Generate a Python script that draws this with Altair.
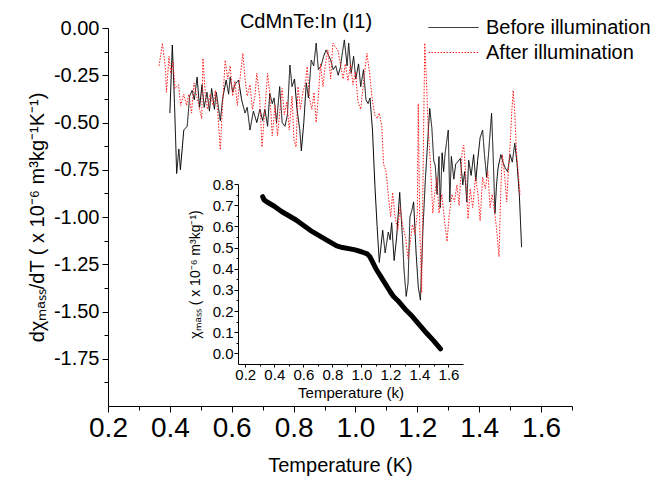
import altair as alt
import pandas as pd

# ---------------- data ----------------
T_before = [0.400, 0.408, 0.415, 0.422, 0.429, 0.434, 0.445, 0.456, 0.464, 0.472, 0.479, 0.488, 0.496, 0.504,
            0.511, 0.520, 0.528, 0.535, 0.544, 0.550, 0.563, 0.571, 0.582, 0.590, 0.595, 0.603, 0.610, 0.622,
            0.632, 0.643, 0.650, 0.659, 0.670, 0.681, 0.691, 0.700, 0.707, 0.716, 0.723, 0.731, 0.737, 0.745,
            0.755, 0.763, 0.772, 0.780, 0.788, 0.795, 0.803, 0.811, 0.820, 0.825, 0.833, 0.841, 0.848, 0.857,
            0.865, 0.873, 0.880, 0.889, 0.897, 0.905, 0.913, 0.920, 0.928, 0.936, 0.944, 0.951, 0.956, 0.964,
            0.973, 0.978, 0.986, 0.994, 1.001, 1.010, 1.017, 1.026, 1.034, 1.041, 1.047, 1.055, 1.063, 1.070,
            1.077, 1.088, 1.096, 1.106, 1.112, 1.117, 1.125, 1.133, 1.143, 1.152, 1.157, 1.164, 1.170, 1.176,
            1.183, 1.188, 1.196, 1.203, 1.210, 1.218, 1.226, 1.235, 1.240, 1.247, 1.253, 1.258, 1.264, 1.270,
            1.274, 1.280, 1.285, 1.290, 1.300, 1.305, 1.310, 1.318, 1.324, 1.330, 1.339, 1.347, 1.353, 1.360,
            1.366, 1.374, 1.382, 1.389, 1.395, 1.403, 1.411, 1.417, 1.424, 1.431, 1.440, 1.445, 1.451, 1.456,
            1.461, 1.470, 1.477, 1.484, 1.492, 1.500, 1.507, 1.515, 1.522, 1.530, 1.537]
dchi_before = [-0.45, -0.09, -0.40, -0.77, -0.64, -0.75, -0.54, -0.52, -0.36, -0.33, -0.38, -0.26, -0.42, -0.30,
               -0.42, -0.34, -0.44, -0.32, -0.43, -0.34, -0.49, -0.37, -0.275, -0.35, -0.26, -0.34, -0.30, -0.275,
               -0.38, -0.45, -0.42, -0.54, -0.44, -0.50, -0.43, -0.49, -0.43, -0.52, -0.345, -0.40, -0.37, -0.50,
               -0.31, -0.50, -0.52, -0.46, -0.196, -0.31, -0.27, -0.43, -0.54, -0.65, -0.50, -0.29, -0.37, -0.17,
               -0.20, -0.08, -0.22, -0.20, -0.15, -0.116, -0.145, -0.17, -0.22, -0.20, -0.25, -0.21, -0.15, -0.063,
               -0.20, -0.08, -0.24, -0.15, -0.27, -0.19, -0.31, -0.22, -0.38, -0.40, -0.37, -0.54, -0.84, -1.05,
               -1.24, -1.07, -1.19, -1.08, -1.12, -1.03, -1.23, -1.11, -0.87, -1.11, -1.28, -1.42, -1.35, -1.00,
               -0.96, -0.92, -1.19, -1.37, -1.44, -1.07, -0.80, -0.56, -0.425, -0.53, -0.70, -0.73, -0.88, -0.68,
               -0.95, -0.66, -0.76, -0.66, -0.54, -0.92, -0.68, -0.80, -0.72, -0.71, -0.69, -0.83, -0.76, -0.92,
               -0.70, -0.78, -0.67, -0.81, -0.70, -0.58, -0.54, -0.67, -0.79, -0.65, -0.45, -0.67, -0.98, -0.83,
               -0.74, -0.67, -0.71, -0.74, -0.76, -0.67, -0.71, -0.61, -0.71, -0.89, -1.16]

T_after = [0.365, 0.376, 0.386, 0.389, 0.397, 0.403, 0.410, 0.417, 0.428, 0.435, 0.445, 0.454, 0.461, 0.470,
           0.478, 0.487, 0.496, 0.503, 0.507, 0.515, 0.522, 0.530, 0.540, 0.547, 0.555, 0.563, 0.572, 0.579,
           0.587, 0.595, 0.603, 0.610, 0.618, 0.626, 0.636, 0.643, 0.650, 0.659, 0.667, 0.675, 0.681, 0.690,
           0.698, 0.706, 0.716, 0.723, 0.731, 0.740, 0.748, 0.755, 0.763, 0.770, 0.778, 0.786, 0.795, 0.801,
           0.808, 0.814, 0.822, 0.830, 0.838, 0.844, 0.851, 0.859, 0.866, 0.873, 0.880, 0.887, 0.895, 0.902,
           0.911, 0.920, 0.927, 0.935, 0.943, 0.951, 0.960, 0.967, 0.976, 0.984, 0.992, 1.000, 1.008, 1.017,
           1.024, 1.030, 1.037, 1.045, 1.053, 1.062, 1.070, 1.077, 1.085, 1.091, 1.099, 1.107, 1.114, 1.120,
           1.128, 1.137, 1.144, 1.153, 1.162, 1.170, 1.176, 1.184, 1.192, 1.200, 1.203, 1.208, 1.214, 1.220,
           1.224, 1.230, 1.235, 1.242, 1.250, 1.256, 1.263, 1.270, 1.279, 1.288, 1.296, 1.303, 1.312, 1.320,
           1.328, 1.335, 1.345, 1.350, 1.355, 1.364, 1.371, 1.379, 1.388, 1.396, 1.403, 1.411, 1.420, 1.428,
           1.435, 1.442, 1.451, 1.456, 1.464, 1.470, 1.475, 1.481, 1.489, 1.494, 1.500, 1.505, 1.510, 1.515,
           1.521, 1.526, 1.532]
dchi_after = [-0.20, -0.08, -0.22, -0.34, -0.15, -0.24, -0.18, -0.32, -0.30, -0.41, -0.35, -0.41, -0.35, -0.45,
              -0.29, -0.36, -0.43, -0.48, -0.16, -0.36, -0.43, -0.35, -0.41, -0.33, -0.45, -0.645, -0.36, -0.17,
              -0.27, -0.20, -0.36, -0.28, -0.41, -0.28, -0.134, -0.27, -0.36, -0.30, -0.43, -0.36, -0.24, -0.36,
              -0.63, -0.45, -0.24, -0.35, -0.57, -0.41, -0.57, -0.45, -0.32, -0.46, -0.39, -0.54, -0.36, -0.59,
              -0.63, -0.31, -0.43, -0.34, -0.29, -0.205, -0.37, -0.43, -0.34, -0.50, -0.36, -0.19, -0.31, -0.20,
              -0.116, -0.27, -0.08, -0.10, -0.116, -0.19, -0.27, -0.19, -0.28, -0.19, -0.30, -0.23, -0.39, -0.43,
              -0.32, -0.23, -0.134, -0.23, -0.36, -0.46, -0.48, -0.45, -0.52, -0.72, -0.76, -0.90, -1.00, -0.87,
              -1.00, -1.07, -0.95, -1.05, -1.11, -1.22, -1.15, -1.04, -1.09, -0.98, -0.40, -1.07, -1.40, -0.58,
              -0.08, -0.30, -0.53, -0.71, -0.98, -0.88, -0.79, -0.98, -0.88, -1.02, -1.13, -0.99, -0.88, -0.92,
              -0.83, -0.94, -0.65, -0.62, -0.74, -1.01, -0.85, -0.95, -0.79, -0.88, -1.02, -0.79, -0.85, -0.76,
              -0.95, -0.88, -0.99, -1.06, -1.21, -0.85, -0.67, -0.76, -0.92, -0.76, -0.62, -0.45, -0.33, -0.45,
              -0.67, -0.76, -0.88]

series_names = ["Before illumination", "After illumination"]

T_inset = [0.32, 0.33, 0.35, 0.40, 0.45, 0.50, 0.55, 0.60, 0.65, 0.70, 0.75, 0.80, 0.83, 0.87, 0.95, 1.00,
           1.04, 1.06, 1.10, 1.15, 1.20, 1.22, 1.25, 1.30, 1.35, 1.40, 1.45, 1.50, 1.545]
chi_inset = [0.74, 0.725, 0.715, 0.695, 0.67, 0.65, 0.63, 0.605, 0.58, 0.56, 0.54, 0.52, 0.508, 0.50, 0.49,
             0.48, 0.47, 0.455, 0.40, 0.345, 0.29, 0.27, 0.25, 0.21, 0.175, 0.135, 0.095, 0.058, 0.022]

main_x_ticks = [round(0.2 + 0.1 * i, 2) for i in range(16)]
main_y_ticks = [round(-2.0 + 0.125 * i, 3) for i in range(1, 17)]
inset_x_ticks = [round(0.2 + 0.1 * i, 2) for i in range(15)]
inset_y_ticks = [round(0.05 * i, 2) for i in range(17)]

FONT = "Liberation Sans"

df_main = pd.concat([
    pd.DataFrame({"T": T_before, "v": dchi_before, "series": series_names[0]}),
    pd.DataFrame({"T": T_after, "v": dchi_after, "series": series_names[1]}),
], ignore_index=True)
df_inset = pd.DataFrame({"Ti": T_inset, "chi": chi_inset})

legend = alt.Legend(title=None, orient="none", legendX=320, legendY=-13, symbolType="stroke",
                    symbolSize=2500, symbolStrokeWidth=1, labelFontSize=20, labelFont=FONT,
                    labelColor="black", labelOffset=7, labelLimit=400, clipHeight=25, rowPadding=0, padding=0)

common = dict(labelFlush=False, labelOverlap=False, grid=False, domainColor="black", tickColor="black",
              labelColor="black", titleColor="black", labelFont=FONT, titleFont=FONT,
              titleFontWeight=400, labelFontWeight=400)

main = alt.Chart(df_main).mark_line(strokeWidth=1).encode(
    x=alt.X("T:Q", scale=alt.Scale(domain=[0.2, 1.7], nice=False, zero=False),
            axis=alt.Axis(values=main_x_ticks, orient="bottom",
                          labelExpr="round(datum.value*10) % 2 == 0 ? format(datum.value, '.1f') : ''",
                          tickSize={"condition": {"test": "round(datum.value*10) % 2 == 0", "value": 6}, "value": 4},
                          labelFontSize=28, labelPadding=2,
                          title="Temperature (K)", titleFontSize=20, titlePadding=13, **common)),
    y=alt.Y("v:Q", scale=alt.Scale(domain=[-2.0, 0.0], nice=False, zero=False),
            axis=alt.Axis(values=main_y_ticks, orient="left",
                          labelExpr="abs(round(datum.value*8)) % 2 == 0 ? ((datum.value < 0 ? '-' : '') + format(abs(datum.value), '.2f')) : ''",
                          tickSize={"condition": {"test": "abs(round(datum.value*8)) % 2 == 0", "value": 6}, "value": 4},
                          labelFontSize=20, labelPadding=3,
                          title="dχₘₐₛₛ/dT ( x 10⁻⁶ m³kg⁻¹K⁻¹)", titleFontSize=20, titlePadding=6, **common)),
    color=alt.Color("series:N", scale=alt.Scale(domain=series_names, range=["#000000", "#ff1a1a"]), legend=legend),
    strokeDash=alt.StrokeDash("series:N", scale=alt.Scale(domain=series_names, range=[[1, 0], [1.5, 1.5]]), legend=legend),
)

inset = alt.Chart(df_inset).mark_line(color="black", strokeWidth=5, strokeCap="round", strokeJoin="round").encode(
    x=alt.X("Ti:Q", scale=alt.Scale(domain=[0.15, 1.7], range=[130, 355], nice=False, zero=False),
            axis=alt.Axis(values=inset_x_ticks, orient="bottom", offset=-42,
                          labelExpr="round(datum.value*10) % 2 == 0 ? format(datum.value, '.1f') : ''",
                          tickSize={"condition": {"test": "round(datum.value*10) % 2 == 0", "value": 3}, "value": 2},
                          labelFontSize=15, labelPadding=0,
                          title="Temperature (k)", titleFontSize=15, titlePadding=3, **common)),
    y=alt.Y("chi:Q", scale=alt.Scale(domain=[-0.05, 0.8], range=[336, 156], nice=False, zero=False),
            axis=alt.Axis(values=inset_y_ticks, orient="left", offset=-130,
                          labelExpr="round(datum.value*20) % 2 == 0 ? format(datum.value, '.1f') : ''",
                          tickSize={"condition": {"test": "round(datum.value*20) % 2 == 0", "value": 4}, "value": 2},
                          labelFontSize=15, labelPadding=1,
                          title="χₘₐₛₛ ( x 10⁻⁶ m³kg⁻¹)", titleFontSize=14, titlePadding=10, **common)),
)

chart = alt.layer(main, inset).resolve_scale(x="independent", y="independent").properties(
    width=464, height=378,
    title=alt.TitleParams("CdMnTe:In (I1)", fontSize=20, fontWeight=400, font=FONT, color="black",
                          anchor="middle", frame="group", dx=-34, dy=19, offset=2),
    autosize=alt.AutoSizeParams(type="none"),
    padding={"left": 108, "top": 28, "right": 83, "bottom": 79},
    background="white",
).configure_view(stroke=None).configure_axis(
    grid=False, domainWidth=1, tickWidth=1, titleFontWeight=400,
)

chart.save("out.html", embed_options={"renderer": "svg", "actions": False})
